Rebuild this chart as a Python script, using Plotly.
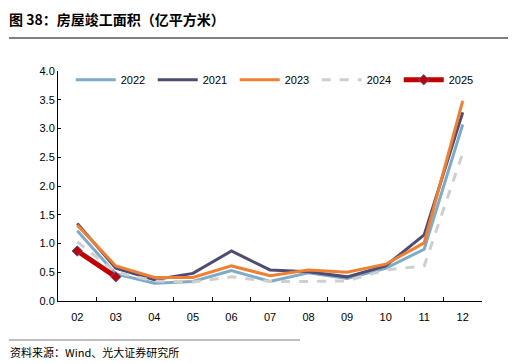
import plotly.graph_objects as go

months = ["02", "03", "04", "05", "06", "07", "08", "09", "10", "11", "12"]
y2022 = [1.22, 0.47, 0.31, 0.34, 0.53, 0.34, 0.49, 0.39, 0.57, 0.90, 3.07]
y2021 = [1.35, 0.57, 0.37, 0.48, 0.87, 0.54, 0.51, 0.42, 0.61, 1.15, 3.28]
y2023 = [1.32, 0.61, 0.41, 0.41, 0.61, 0.44, 0.54, 0.50, 0.64, 1.01, 3.48]
y2024 = [1.03, 0.50, 0.35, 0.33, 0.42, 0.34, 0.34, 0.35, 0.54, 0.61, 2.57]
y2025 = [0.87, 0.42]

fig = go.Figure()
fig.add_trace(go.Scatter(x=months, y=y2022, name="2022", mode="lines",
                         line=dict(color="#7EABC8", width=3)))
fig.add_trace(go.Scatter(x=months, y=y2021, name="2021", mode="lines",
                         line=dict(color="#4E4C72", width=3)))
fig.add_trace(go.Scatter(x=months, y=y2023, name="2023", mode="lines",
                         line=dict(color="#F07F32", width=3)))
fig.add_trace(go.Scatter(x=months, y=y2024, name="2024", mode="lines",
                         line=dict(color="#CFCFCF", width=3, dash="dash")))
fig.add_trace(go.Scatter(x=months[:2], y=y2025, name="2025", mode="lines+markers",
                         line=dict(color="#C00000", width=5),
                         marker=dict(symbol="diamond", size=8, color="#C00000",
                                     line=dict(color="#4E5FA8", width=1))))

PW, PH = 424, 230
L, T = 50, 63

fig.update_layout(
    width=508, height=355,
    margin=dict(l=L, r=34, t=T, b=62),
    paper_bgcolor="white", plot_bgcolor="white",
    font=dict(family="Liberation Sans, Arial", size=11, color="#000"),
    showlegend=True,
    legend=dict(orientation="h", x=0.03, y=1.025, xanchor="left", yanchor="top",
                bgcolor="rgba(0,0,0,0)", font=dict(size=11), entrywidth=27,
                itemwidth=40, tracegroupgap=0),
    xaxis=dict(type="category", range=[-0.5, 10.5], showline=True,
               linecolor="#000", linewidth=1, ticks="inside", ticklen=4,
               tickcolor="#000", tickson="boundaries", showgrid=False,
               zeroline=False, ticklabelstandoff=6),
    yaxis=dict(range=[0, 4.0], dtick=0.5, tickformat=".1f", showline=True,
               linecolor="#000", linewidth=1, ticks="inside", ticklen=3,
               tickcolor="#000", showgrid=False, zeroline=False),
)

fig.add_annotation(text="<b>图 38：房屋竣工面积（亿平方米）</b>", xref="paper", yref="paper",
                   x=-L/PW, y=1 + T/PH, xanchor="left", yanchor="top",
                   showarrow=False, borderpad=0,
                   font=dict(family="Noto Sans CJK SC", size=14, color="#000"))
fig.add_annotation(text="资料来源：Wind、光大证券研究所", xref="paper", yref="paper",
                   x=-L/PW, y=-(344-(T+PH))/PH, xanchor="left", yanchor="middle",
                   showarrow=False,
                   font=dict(family="Noto Sans CJK SC", size=11, color="#000"))
# title & source separator lines
fig.add_shape(type="line", xref="paper", yref="paper",
              x0=-(L-1)/PW, x1=(502-L)/PW, y0=1 + (T-30)/PH, y1=1 + (T-30)/PH,
              line=dict(color="#7F7F7F", width=2))
fig.add_shape(type="line", xref="paper", yref="paper",
              x0=-(L-1)/PW, x1=(292-L)/PW, y0=-(332-(T+PH))/PH, y1=-(332-(T+PH))/PH,
              line=dict(color="#7F7F7F", width=1))

fig.write_html("out.html")
